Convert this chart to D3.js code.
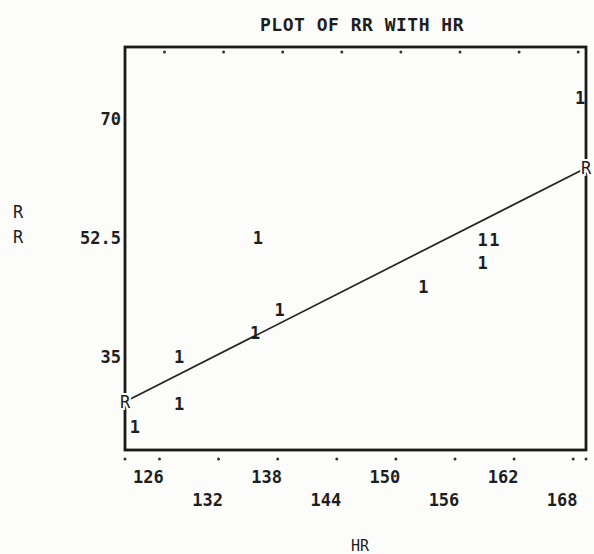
<!DOCTYPE html>
<html>
<head>
<meta charset="utf-8">
<script src="https://cdn.jsdelivr.net/npm/d3@7"></script>
<style>
  body { margin: 0; background: #fcfcfa; }
  text { font-family: "DejaVu Sans Mono", monospace; font-weight: bold; fill: #1e1e1e; }
</style>
</head>
<body>
<div id="chart"></div>
<script>
// scatter points (HR, RR), each plotted as the symbol "1"
const hr = [136, 128, 128, 123.5, 135.7, 138.2, 168.7, 158.8, 160, 158.8, 152.8];
const rr = [52.5, 35, 28, 24.7, 38.5, 41.9, 73.1, 52.2, 52.2, 48.8, 45.3];

// fitted regression line, end points marked "R"
const regHR = [122.5, 169.3];
const regRR = [28.4, 62.8];

const xTicks = [126, 132, 138, 144, 150, 156, 162, 168];
const yTicks = [35, 52.5, 70];
const yTickLabels = ["35", "52.5", "70"];

const width = 594, height = 554;
const frame = { left: 125, right: 586, top: 47, bottom: 450 };

const svg = d3.select("#chart")
    .append("svg")
    .attr("width", width)
    .attr("height", height);

const x = d3.scaleLinear().domain([122.5, 169.3]).range([frame.left, frame.right]);
const y = d3.scaleLinear().domain([21.3, 80.6]).range([frame.bottom, frame.top]);

// frame
svg.append("rect")
    .attr("x", frame.left)
    .attr("y", frame.top)
    .attr("width", frame.right - frame.left)
    .attr("height", frame.bottom - frame.top)
    .style("fill", "none")
    .style("stroke", "#1a1a1a")
    .style("stroke-width", 2.8);

// tick dots, top (inside) and bottom (outside)
svg.append("g").selectAll("circle")
    .data(xTicks)
    .join("circle")
    .attr("cx", d => x(d) + 5)
    .attr("cy", frame.top + 5)
    .attr("r", 1.5)
    .style("fill", "#333");

svg.append("g").selectAll("circle")
    .data([regHR[0]].concat(xTicks, [regHR[1]]))
    .join("circle")
    .attr("cx", d => x(d))
    .attr("cy", frame.bottom + 9)
    .attr("r", 1.5)
    .style("fill", "#333");

// x tick labels, staggered on two rows
svg.append("g").selectAll("text")
    .data(xTicks)
    .join("text")
    .attr("x", d => x(d) - 11)
    .attr("y", (d, i) => i % 2 === 0 ? 483 : 506)
    .attr("text-anchor", "middle")
    .style("font-size", "17px")
    .text(d => d);

// y tick labels
svg.append("g").selectAll("text")
    .data(yTicks)
    .join("text")
    .attr("x", frame.left - 4)
    .attr("y", d => y(d) + 6)
    .attr("text-anchor", "end")
    .style("font-size", "17px")
    .text((d, i) => yTickLabels[i]);

// regression line
svg.append("line")
    .attr("x1", x(regHR[0]))
    .attr("y1", y(regRR[0]))
    .attr("x2", x(regHR[1]))
    .attr("y2", y(regRR[1]))
    .style("stroke", "#222")
    .style("stroke-width", 1.7);

svg.append("g").selectAll("text")
    .data(regHR)
    .join("text")
    .attr("x", d => x(d))
    .attr("y", (d, i) => y(regRR[i]) + 6)
    .attr("text-anchor", "middle")
    .style("font-size", "17px")
    .style("font-weight", "normal")
    .style("stroke", "#fcfcfa")
    .style("stroke-width", 4)
    .style("paint-order", "stroke")
    .text("R");

// data points
svg.append("g").selectAll("text")
    .data(hr)
    .join("text")
    .attr("x", d => x(d))
    .attr("y", (d, i) => y(rr[i]) + 6)
    .attr("text-anchor", "middle")
    .style("font-size", "17px")
    .text("1");

// titles
svg.append("text")
    .attr("x", 362)
    .attr("y", 31)
    .attr("text-anchor", "middle")
    .style("font-size", "18px")
    .style("letter-spacing", "0.5px")
    .text("PLOT OF RR WITH HR");

svg.append("text")
    .attr("x", 360)
    .attr("y", 551)
    .attr("text-anchor", "middle")
    .style("font-size", "15px")
    .style("font-weight", "normal")
    .text("HR");

svg.append("g").selectAll("text")
    .data(["R", "R"])
    .join("text")
    .attr("x", 18)
    .attr("y", (d, i) => 218 + i * 25)
    .attr("text-anchor", "middle")
    .style("font-size", "17px")
    .style("font-weight", "normal")
    .text(d => d);
</script>
</body>
</html>
